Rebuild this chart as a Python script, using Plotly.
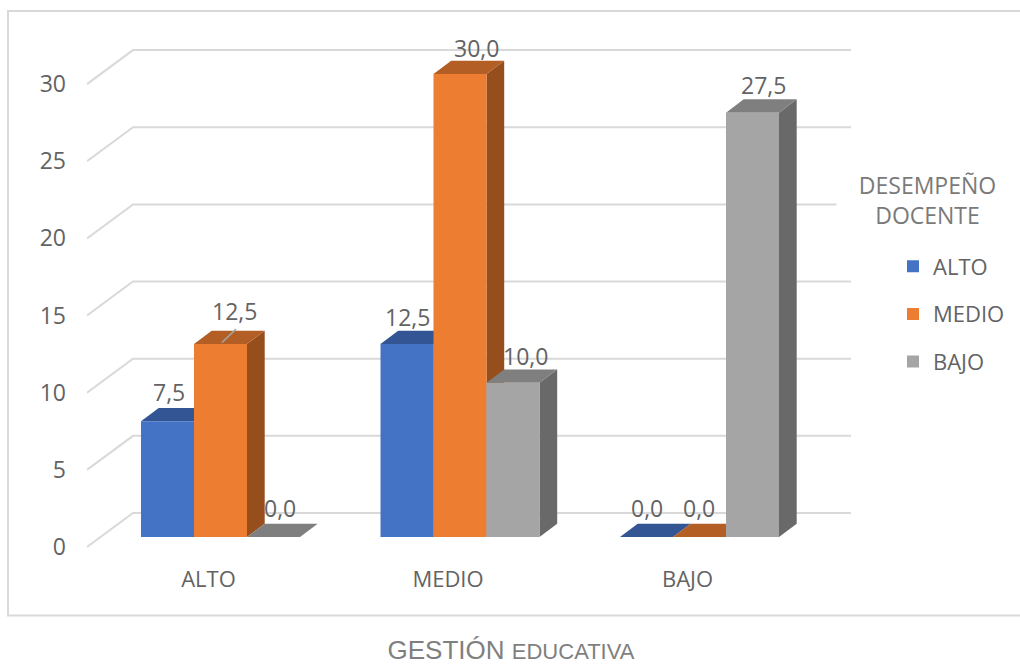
import plotly.graph_objects as go

categories = ["ALTO", "MEDIO", "BAJO"]
series_names = ["ALTO", "MEDIO", "BAJO"]
# series (per category: ALTO, MEDIO, BAJO)
serie_alto = [7.5, 12.5, 0.0]
serie_medio = [12.5, 30.0, 0.0]
serie_bajo = [0.0, 10.0, 27.5]
y_ticks = [0, 5, 10, 15, 20, 25, 30]

series = [serie_alto, serie_medio, serie_bajo]
front_colors = ["#4472C4", "#ED7D31", "#A5A5A5"]
top_colors = ["#335593", "#B25E25", "#7F7F7F"]
side_colors = ["#2A4A80", "#964E1D", "#696969"]

# geometry (pixel scale of the axes)
PX_X = 239.5   # px per category
PX_Y = 15.43   # px per value unit
BAR_W = 53 / PX_X
DX = 17.7 / PX_X   # bar depth
DY = 13.3 / PX_Y
XMIN, XMAX = -133.5 / PX_X, 630.5 / PX_X
YMIN, YMAX = -13 / PX_Y, 497 / PX_Y
WALL_X = XMIN + 46 / PX_X
WALL_DY = 24 / PX_Y
FRONT_DY = -10 / PX_Y
GRID = "#D9D9D9"
TXT = "#636363"
FONT = "Open Sans"
FS = 23

# label offsets in px relative to (bar centre, bar top)
label_dx = [[1, 14, 6], [0, 16.5, 12], [0, -1, 11]]
label_dy = [[29, 33, 29], [27, 26, 26.5], [29, 29, 28]]

fig = go.Figure()
shapes = []

# walls: gridlines with their diagonal on the left
for v in y_ticks:
    path = (f"M{XMIN},{v + FRONT_DY} L{WALL_X},{v + WALL_DY} L{XMAX},{v + WALL_DY}")
    shapes.append(dict(type="path", path=path, xref="x", yref="y", layer="below",
                       line=dict(color=GRID, width=2)))


def bar_x(cat, ser):
    return cat + (ser - 1) * BAR_W


# 3D faces of the bars, under the front faces
for j, vals in enumerate(series):
    for i, v in enumerate(vals):
        x0 = bar_x(i, j) - BAR_W / 2
        x1 = x0 + BAR_W
        top = f"M{x0},{v} L{x1},{v} L{x1 + DX},{v + DY} L{x0 + DX},{v + DY} Z"
        side = f"M{x1},0 L{x1 + DX},{DY} L{x1 + DX},{v + DY} L{x1},{v} Z"
        if v > 0:
            shapes.append(dict(type="path", path=side, xref="x", yref="y", layer="between",
                               fillcolor=side_colors[j], line=dict(width=0)))
        shapes.append(dict(type="path", path=top, xref="x", yref="y", layer="between",
                           fillcolor=top_colors[j], line=dict(width=0)))

# front faces and legend
for j, vals in enumerate(series):
    fig.add_trace(go.Bar(x=list(range(len(categories))), y=vals, name=series_names[j],
                         legendgroup=series_names[j],
                         marker=dict(color=front_colors[j], line=dict(width=0))))

# leader line of the first 12,5 label
v = series[1][0]
xc = bar_x(0, 1)
shapes.append(dict(type="line", xref="x", yref="y", layer="above",
                   x0=xc + 1.5 / PX_X, y0=v + 0.1, x1=xc + 15.5 / PX_X, y1=v + 15 / PX_Y,
                   line=dict(color="#A6A6A6", width=1.5)))

# outer frame, open on the right
shapes.append(dict(type="path", xref="paper", yref="paper", layer="below",
                   path=(f"M{1.3},{(550 - 11) / 510} L{(8 - 87) / 764},{(550 - 11) / 510} "
                         f"L{(8 - 87) / 764},{(550 - 615.5) / 510} L{1.3},{(550 - 615.5) / 510}"),
                   line=dict(color=GRID, width=2)))

annotations = []
for j, vals in enumerate(series):
    for i, v in enumerate(vals):
        annotations.append(dict(x=bar_x(i, j), y=v, xref="x", yref="y",
                                text=f"{v:.1f}".replace(".", ","), showarrow=False,
                                xanchor="center", yanchor="middle",
                                xshift=label_dx[i][j], yshift=label_dy[i][j],
                                font=dict(family=FONT, size=FS, color=TXT)))

# legend heading
annotations.append(dict(xref="paper", yref="paper", x=(836 - 87) / 764, y=(550 - 170.5) / 510,
                        xanchor="left", yanchor="top", width=181, height=56, align="center",
                        text="DESEMPEÑO<br>DOCENTE", showarrow=False, bgcolor="white", borderpad=0,
                        font=dict(family=FONT, size=FS, color="#7A7A7A")))

fig.update_layout(
    width=1020, height=664, autosize=False,
    margin=dict(l=87, r=169, t=40, b=114),
    paper_bgcolor="white", plot_bgcolor="rgba(0,0,0,0)",
    barmode="group", bargap=1 - 3 * BAR_W, bargroupgap=0,
    shapes=shapes, annotations=annotations,
    title=dict(text='GESTIÓN <span style="font-size:22px">EDUCATIVA</span>',
               x=511 / 1020, xanchor="center", y=1 - 649.5 / 664, yanchor="middle",
               font=dict(family="Liberation Sans", size=26, color="#7F7F7F")),
    legend=dict(xref="container", yref="container", x=893 / 1020, y=1 - 245.5 / 664,
                xanchor="left", yanchor="top", traceorder="grouped", tracegroupgap=16,
                bgcolor="rgba(0,0,0,0)", font=dict(family=FONT, size=22, color=TXT)),
    xaxis=dict(range=[XMIN, XMAX], tickmode="array", tickvals=[0, 1, 2], ticktext=categories,
               showgrid=False, zeroline=False, showline=False, ticks="",
               ticklabelstandoff=14, ticklabelshift=-12,
               tickfont=dict(family=FONT, size=22, color=TXT)),
    yaxis=dict(range=[YMIN, YMAX], tickmode="array", tickvals=y_ticks,
               showgrid=False, zeroline=False, showline=False, ticks="",
               ticklabelstandoff=20, ticklabelshift=10,
               tickfont=dict(family=FONT, size=FS, color=TXT)),
)

fig.write_html("out.html", config=dict(displayModeBar=False),
               post_script="document.body.style.margin='0';")
